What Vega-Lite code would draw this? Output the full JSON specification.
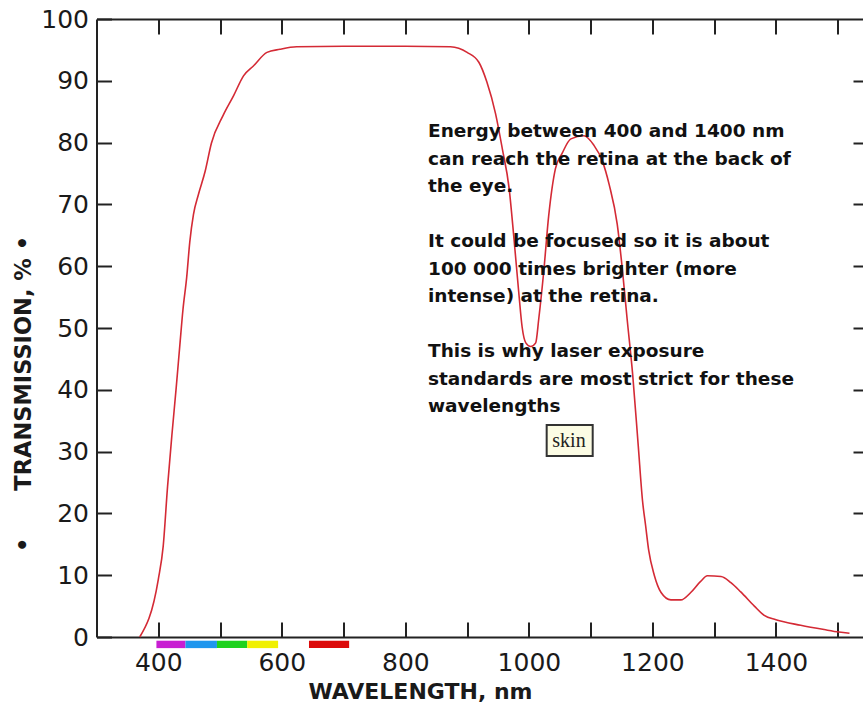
{
  "$schema": "https://vega.github.io/schema/vega-lite/v6.json",
  "width": 766.5,
  "height": 618,
  "autosize": "none",
  "padding": {"left": 96.5, "top": 19, "right": 0, "bottom": 67},
  "background": "white",
  "config": {
    "view": {"stroke": null},
    "axis": {
      "grid": false,
      "domainColor": "#222222",
      "domainWidth": 2,
      "tickColor": "#222222",
      "tickWidth": 2,
      "tickSize": -15,
      "labelFont": "DejaVu Sans",
      "labelFontSize": 25,
      "labelColor": "#1a1a1a",
      "labelFlush": false,
      "titleFont": "DejaVu Sans",
      "titleFontWeight": "bold",
      "titleFontSize": 22.5,
      "titleColor": "#1a1a1a"
    },
    "text": {
      "align": "left",
      "baseline": "alphabetic",
      "lineBreak": "\n",
      "lineHeight": 27.5,
      "font": "DejaVu Sans",
      "fontWeight": "bold",
      "fontSize": 18.5,
      "color": "#111111"
    }
  },
  "datasets": {
    "curve": [
      {"wavelength": 370, "transmission": 0},
      {"wavelength": 400, "transmission": 9.3},
      {"wavelength": 408, "transmission": 14.7},
      {"wavelength": 415, "transmission": 24.3},
      {"wavelength": 422, "transmission": 32.6},
      {"wavelength": 429, "transmission": 40.3},
      {"wavelength": 435, "transmission": 47.3},
      {"wavelength": 440, "transmission": 53},
      {"wavelength": 446, "transmission": 58.2},
      {"wavelength": 451, "transmission": 63.9},
      {"wavelength": 457, "transmission": 68.4},
      {"wavelength": 465, "transmission": 71.6},
      {"wavelength": 476, "transmission": 75.4},
      {"wavelength": 486, "transmission": 79.9},
      {"wavelength": 505, "transmission": 84.4},
      {"wavelength": 522, "transmission": 87.6},
      {"wavelength": 538, "transmission": 90.8},
      {"wavelength": 554, "transmission": 92.4},
      {"wavelength": 576, "transmission": 94.6},
      {"wavelength": 597, "transmission": 95.1},
      {"wavelength": 624, "transmission": 95.5},
      {"wavelength": 700, "transmission": 95.6},
      {"wavelength": 800, "transmission": 95.6},
      {"wavelength": 873, "transmission": 95.5},
      {"wavelength": 900, "transmission": 94.6},
      {"wavelength": 919, "transmission": 93.0},
      {"wavelength": 932, "transmission": 89.8},
      {"wavelength": 946, "transmission": 84.7},
      {"wavelength": 957, "transmission": 79},
      {"wavelength": 968, "transmission": 72.6},
      {"wavelength": 976, "transmission": 64.3},
      {"wavelength": 984, "transmission": 55.3},
      {"wavelength": 989, "transmission": 50.2},
      {"wavelength": 995, "transmission": 47.6},
      {"wavelength": 1003, "transmission": 47},
      {"wavelength": 1011, "transmission": 47.6},
      {"wavelength": 1016, "transmission": 51.5},
      {"wavelength": 1024, "transmission": 59.1},
      {"wavelength": 1032, "transmission": 68.1},
      {"wavelength": 1043, "transmission": 75.8},
      {"wavelength": 1054, "transmission": 78.3},
      {"wavelength": 1068, "transmission": 80.6},
      {"wavelength": 1089, "transmission": 81.1},
      {"wavelength": 1105, "transmission": 79.6},
      {"wavelength": 1119, "transmission": 77},
      {"wavelength": 1130, "transmission": 73.2},
      {"wavelength": 1143, "transmission": 66.8},
      {"wavelength": 1151, "transmission": 59.8},
      {"wavelength": 1159, "transmission": 51.5},
      {"wavelength": 1168, "transmission": 42.5},
      {"wavelength": 1177, "transmission": 31},
      {"wavelength": 1184, "transmission": 22},
      {"wavelength": 1189, "transmission": 18},
      {"wavelength": 1194, "transmission": 14},
      {"wavelength": 1203, "transmission": 10},
      {"wavelength": 1214, "transmission": 7.2},
      {"wavelength": 1230, "transmission": 6.0},
      {"wavelength": 1246, "transmission": 6.0},
      {"wavelength": 1262, "transmission": 7.2},
      {"wavelength": 1278, "transmission": 9.0},
      {"wavelength": 1289, "transmission": 9.9},
      {"wavelength": 1311, "transmission": 9.8},
      {"wavelength": 1327, "transmission": 8.8},
      {"wavelength": 1343, "transmission": 7.3},
      {"wavelength": 1365, "transmission": 5.0},
      {"wavelength": 1381, "transmission": 3.5},
      {"wavelength": 1400, "transmission": 2.8},
      {"wavelength": 1440, "transmission": 1.9},
      {"wavelength": 1478, "transmission": 1.2},
      {"wavelength": 1502, "transmission": 0.8},
      {"wavelength": 1519, "transmission": 0.6}
    ],
    "spectrum": [
      {"band": "violet", "start": 397, "end": 444},
      {"band": "blue", "start": 444, "end": 495},
      {"band": "green", "start": 495, "end": 544},
      {"band": "yellow", "start": 544, "end": 594},
      {"band": "red", "start": 644, "end": 709}
    ],
    "notes": [
      {"para": 1, "note": "Energy between 400 and 1400 nm\ncan reach the retina at the back of\nthe eye."},
      {"para": 2, "note": "It could be focused so it is about\n100 000 times brighter (more\nintense) at the retina."},
      {"para": 3, "note": "This is why laser exposure\nstandards are most strict for these\nwavelengths"}
    ],
    "tags": [
      {"label": "skin"}
    ]
  },
  "layer": [
    {
      "data": {"name": "curve"},
      "mark": {"type": "line", "color": "#d42a35", "strokeWidth": 1.6, "interpolate": "monotone"},
      "encoding": {
        "x": {
          "field": "wavelength",
          "type": "quantitative",
          "scale": {"domain": [300, 1540.9], "nice": false, "zero": false},
          "axis": {
            "orient": "bottom",
            "values": [400, 500, 600, 700, 800, 900, 1000, 1100, 1200, 1300, 1400, 1500],
            "format": "d",
            "labelExpr": "datum.value % 200 == 0 && datum.value <= 1400 ? datum.label : ''",
            "labelPadding": 48,
            "labelBaseline": "alphabetic",
            "title": "WAVELENGTH, nm",
            "titleX": 323.5,
            "titleY": 61,
            "titleBaseline": "alphabetic",
            "titleAlign": "center",
            "titleFontSize": 22
          }
        },
        "y": {
          "field": "transmission",
          "type": "quantitative",
          "scale": {"domain": [0, 100], "nice": false, "zero": false},
          "axis": {
            "orient": "left",
            "values": [0, 10, 20, 30, 40, 50, 60, 70, 80, 90, 100],
            "labelPadding": 23,
            "labelBaseline": "middle",
            "title": "•\u00a0\u00a0\u00a0\u00a0\u00a0\u00a0TRANSMISSION, %\u00a0•",
            "titleX": -66.5,
            "titleY": 374.5,
            "titleAngle": 270,
            "titleBaseline": "alphabetic",
            "titleAlign": "center"
          }
        }
      }
    },
    {
      "data": {"name": "curve"},
      "mark": {"type": "line", "strokeOpacity": 0},
      "encoding": {
        "x": {
          "field": "wavelength",
          "type": "quantitative",
          "axis": {
            "orient": "top",
            "values": [400, 500, 600, 700, 800, 900, 1000, 1100, 1200, 1300, 1400, 1500],
            "labels": false,
            "title": null
          }
        },
        "y": {
          "field": "transmission",
          "type": "quantitative",
          "axis": {
            "orient": "right",
            "values": [10, 20, 30, 40, 50, 60, 70, 80, 90],
            "labels": false,
            "domain": false,
            "tickSize": -10,
            "title": null
          }
        }
      }
    },
    {
      "data": {"name": "spectrum"},
      "mark": {"type": "rect"},
      "encoding": {
        "x": {"field": "start", "type": "quantitative", "axis": null},
        "x2": {"field": "end"},
        "y": {"datum": -0.6, "type": "quantitative", "axis": null},
        "y2": {"datum": -1.8},
        "color": {
          "field": "band",
          "type": "nominal",
          "scale": {
            "domain": ["violet", "blue", "green", "yellow", "red"],
            "range": ["#c81ed2", "#1e96ee", "#1ed21e", "#f0f000", "#dc0a0a"]
          },
          "legend": null
        }
      }
    },
    {
      "data": {"name": "notes"},
      "transform": [{"filter": "datum.para == 1"}],
      "mark": {"type": "text"},
      "encoding": {
        "x": {"datum": 836.7, "type": "quantitative", "axis": null},
        "y": {"datum": 80.9, "type": "quantitative", "axis": null},
        "text": {"field": "note", "type": "nominal"}
      }
    },
    {
      "data": {"name": "notes"},
      "transform": [{"filter": "datum.para == 2"}],
      "mark": {"type": "text"},
      "encoding": {
        "x": {"datum": 836.7, "type": "quantitative", "axis": null},
        "y": {"datum": 63.1, "type": "quantitative", "axis": null},
        "text": {"field": "note", "type": "nominal"}
      }
    },
    {
      "data": {"name": "notes"},
      "transform": [{"filter": "datum.para == 3"}],
      "mark": {"type": "text"},
      "encoding": {
        "x": {"datum": 836.7, "type": "quantitative", "axis": null},
        "y": {"datum": 45.3, "type": "quantitative", "axis": null},
        "text": {"field": "note", "type": "nominal"}
      }
    },
    {
      "data": {"name": "tags"},
      "mark": {"type": "rect", "fill": "#fcfce4", "stroke": "#333333", "strokeWidth": 2},
      "encoding": {
        "x": {"datum": 1028.8, "type": "quantitative", "axis": null},
        "x2": {"datum": 1103.3},
        "y": {"datum": 34.3, "type": "quantitative", "axis": null},
        "y2": {"datum": 29.3}
      }
    },
    {
      "data": {"name": "tags"},
      "mark": {
        "type": "text",
        "align": "center",
        "font": "Liberation Serif",
        "fontWeight": "normal",
        "fontSize": 20,
        "color": "#222222"
      },
      "encoding": {
        "x": {"datum": 1064.9, "type": "quantitative", "axis": null},
        "y": {"datum": 30.8, "type": "quantitative", "axis": null},
        "text": {"field": "label", "type": "nominal"}
      }
    }
  ],
  "resolve": {"axis": {"x": "independent", "y": "independent"}}
}
